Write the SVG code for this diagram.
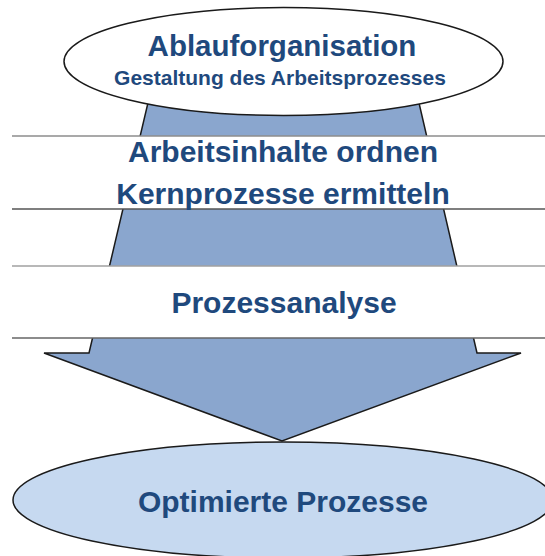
<svg xmlns="http://www.w3.org/2000/svg" width="545" height="556" viewBox="0 0 545 556">
  <style>
    .lbl { font-family: "Liberation Sans", Arial, sans-serif; font-weight: bold; fill: #1F497D; text-anchor: middle; }
    .big { font-size: 30px; }
    .sub { font-size: 21px; }
    .outline { stroke: #1a1a1a; stroke-width: 1.5; }
  </style>
  <rect x="0" y="0" width="545" height="556" fill="#ffffff"/>
  <g id="connectors">
    <polygon class="outline" fill="#8AA6CE" stroke-linejoin="miter"
      points="151,90 416,90 477,353 521,353 282,441 44,353 89,353"/>
  </g>
  <g id="band-1">
    <rect x="12" y="136" width="533" height="73" fill="#ffffff"/>
    <line x1="12" y1="136" x2="545" y2="136" stroke="#8c8c8c" stroke-width="1.3"/>
    <line x1="12" y1="209" x2="545" y2="209" stroke="#555555" stroke-width="1.3"/>
    <text class="lbl big" x="283" y="162">Arbeitsinhalte ordnen</text>
    <text class="lbl big" x="283" y="204">Kernprozesse ermitteln</text>
  </g>
  <g id="band-2">
    <rect x="12" y="266" width="533" height="72" fill="#ffffff"/>
    <line x1="12" y1="266" x2="545" y2="266" stroke="#a0a0a0" stroke-width="1.6"/>
    <line x1="12" y1="338" x2="545" y2="338" stroke="#666666" stroke-width="1.3"/>
    <text class="lbl big" x="284" y="313">Prozessanalyse</text>
  </g>
  <g id="top-node">
    <ellipse class="outline" cx="283.5" cy="61.5" rx="219.5" ry="54" fill="#ffffff"/>
    <text class="lbl" x="282" y="56" font-size="29.5">Ablauforganisation</text>
    <text class="lbl sub" x="280" y="85">Gestaltung des Arbeitsprozesses</text>
  </g>
  <g id="bottom-node">
    <ellipse class="outline" cx="283" cy="500" rx="270" ry="58" fill="#C6D9F0"/>
    <text class="lbl big" x="283" y="512">Optimierte Prozesse</text>
  </g>
</svg>
